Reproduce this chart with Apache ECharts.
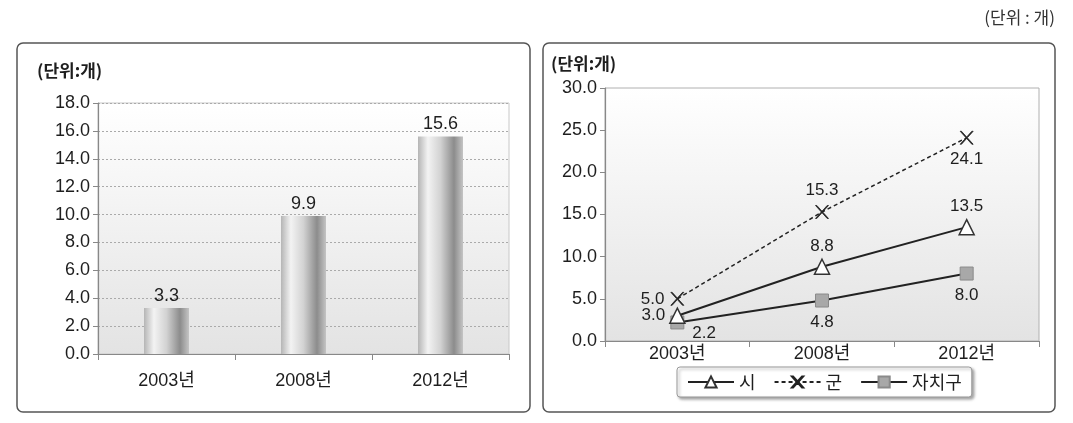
<!DOCTYPE html>
<html><head><meta charset="utf-8">
<script src="https://cdn.jsdelivr.net/npm/echarts@6/dist/echarts.min.js"></script>
<style>html,body{margin:0;padding:0;background:#fff}#c{width:1073px;height:423px}</style>
</head><body><div id="c"></div>
<script>
const categories = ['2003년', '2008년', '2012년'];
const barValues = [3.3, 9.9, 15.6];
const seriesNames = ['시', '군', '자치구'];
const siValues = [3.0, 8.8, 13.5];
const gunValues = [5.0, 15.3, 24.1];
const gaValues = [2.2, 4.8, 8.0];
const leftTicks = { min: 0, max: 18, interval: 2 };
const rightTicks = { min: 0, max: 30, interval: 5 };
const unitText = '(단위 : 개)';
const axisUnit = '(단위:개)';

const siLabelPos = ['left', 'top', 'top'];
const gunLabelPos = ['left', 'top', 'bottom'];
const gaLabelPos = ['right', 'bottom', 'bottom'];

const FONT = "'Liberation Sans', Arial, 'Noto Sans CJK KR', sans-serif";
const TXT = '#1e1e1e';

const plotBg = new echarts.graphic.LinearGradient(0, 0, 0, 1, [
  { offset: 0, color: '#ffffff' }, { offset: 1, color: '#e3e3e3' }
]);
const barGrad = new echarts.graphic.LinearGradient(0, 0, 1, 0, [
  { offset: 0, color: '#b5b5b5' }, { offset: 0.22, color: '#f3f3f3' },
  { offset: 0.5, color: '#d2d2d2' }, { offset: 0.8, color: '#8c8c8c' },
  { offset: 1, color: '#c4c4c4' }
]);

function mkData(vals, pos) {
  return vals.map((v, i) => {
    const lab = { position: pos[i] };
    if (pos[i] === 'right') { lab.offset = [2, 11]; }
    return { value: v, label: lab };
  });
}

const chart = echarts.init(document.getElementById('c'), null, { renderer: 'canvas' });
chart.setOption({
  animation: false,
  textStyle: { fontFamily: FONT, color: TXT },
  graphic: [
    { type: 'rect', shape: { x: 17, y: 43, width: 513, height: 369, r: 6 }, style: { fill: 'none', stroke: '#555', lineWidth: 1.5 }, z: -1 },
    { type: 'rect', shape: { x: 543, y: 43, width: 512, height: 369, r: 6 }, style: { fill: 'none', stroke: '#555', lineWidth: 1.5 }, z: -1 },
    { type: 'text', right: 18, top: 9, style: { text: unitText, font: "17px 'Noto Sans CJK KR'", fill: '#333' } },
    { type: 'text', left: 37, top: 62, style: { text: axisUnit, font: "bold 17px 'Noto Sans CJK KR'", fill: TXT } },
    { type: 'text', left: 551, top: 55, style: { text: axisUnit, font: "bold 17px 'Noto Sans CJK KR'", fill: TXT } }
  ],
  legend: {
    left: 677, top: 367, width: 288,
    data: seriesNames,
    itemWidth: 46, itemHeight: 14, itemGap: 18,
    padding: [6, 10, 6, 10],
    borderColor: '#999', borderWidth: 1, borderRadius: 3,
    backgroundColor: '#fff',
    shadowColor: 'rgba(0,0,0,0.35)', shadowBlur: 3, shadowOffsetX: 2, shadowOffsetY: 2,
    textStyle: { fontSize: 18, color: TXT, fontFamily: "'Noto Sans CJK KR', sans-serif" }
  },
  grid: [
    { left: 98, right: 564, top: 103, bottom: 69, show: true, backgroundColor: plotBg, borderColor: '#c8c8c8', borderWidth: 1 },
    { left: 605, right: 34, top: 88, bottom: 82, show: true, backgroundColor: plotBg, borderColor: '#b0b0b0', borderWidth: 1 }
  ],
  xAxis: [
    { type: 'category', gridIndex: 0, data: categories, boundaryGap: true,
      axisLine: { lineStyle: { color: '#888', width: 1.2 } },
      axisTick: { show: true, length: 6, lineStyle: { color: '#888' } },
      axisLabel: { fontSize: 18, color: TXT, margin: 18 } },
    { type: 'category', gridIndex: 1, data: categories, boundaryGap: true,
      axisLine: { lineStyle: { color: '#888', width: 1.2 } },
      axisTick: { show: true, length: 6, lineStyle: { color: '#888' } },
      axisLabel: { fontSize: 18, color: TXT, margin: 4 } }
  ],
  yAxis: [
    { type: 'value', gridIndex: 0, min: leftTicks.min, max: leftTicks.max, interval: leftTicks.interval,
      axisLine: { show: true, lineStyle: { color: '#888', width: 1.2 } },
      axisTick: { show: true, length: 5, lineStyle: { color: '#888' } },
      axisLabel: { fontSize: 18, color: TXT, margin: 8, formatter: v => v.toFixed(1) },
      splitLine: { show: true, lineStyle: { color: '#aaa', type: [2, 2] } } },
    { type: 'value', gridIndex: 1, min: rightTicks.min, max: rightTicks.max, interval: rightTicks.interval,
      axisLine: { show: true, lineStyle: { color: '#888', width: 1.2 } },
      axisTick: { show: true, length: 5, lineStyle: { color: '#888' } },
      axisLabel: { fontSize: 18, color: TXT, margin: 8, formatter: v => v.toFixed(1) },
      splitLine: { show: false } }
  ],
  series: [
    { type: 'bar', xAxisIndex: 0, yAxisIndex: 0, data: barValues, barWidth: 45,
      itemStyle: { color: barGrad },
      label: { show: true, position: 'top', distance: 3, fontSize: 18, color: TXT, formatter: p => p.value.toFixed(1) } },
    { name: seriesNames[0], type: 'line', xAxisIndex: 1, yAxisIndex: 1, data: mkData(siValues, siLabelPos),
      lineStyle: { color: '#222', width: 2 }, symbol: 'triangle', symbolSize: 15,
      itemStyle: { color: '#fff', borderColor: '#333', borderWidth: 1.5 },
      label: { show: true, fontSize: 17, color: TXT, distance: 4, formatter: p => p.value.toFixed(1) }, z: 4 },
    { name: seriesNames[1], type: 'line', xAxisIndex: 1, yAxisIndex: 1, data: mkData(gunValues, gunLabelPos),
      lineStyle: { color: '#222', width: 1.5, type: [4, 3] },
      symbol: 'path://M0,0 L2,0 L10,8 L18,0 L20,0 L11,9 L20,18 L18,18 L10,10 L2,18 L0,18 L9,9 Z', symbolSize: 13,
      itemStyle: { color: '#222', borderColor: '#222', borderWidth: 0.8 },
      label: { show: true, fontSize: 17, color: TXT, distance: 6, formatter: p => p.value.toFixed(1) }, z: 3 },
    { name: seriesNames[2], type: 'line', xAxisIndex: 1, yAxisIndex: 1, data: mkData(gaValues, gaLabelPos),
      lineStyle: { color: '#222', width: 2 }, symbol: 'rect', symbolSize: 13,
      itemStyle: { color: '#a8a8a8', borderColor: '#8a8a8a', borderWidth: 1 },
      label: { show: true, fontSize: 17, color: TXT, distance: 6, formatter: p => p.value.toFixed(1) }, z: 2 }
  ]
});
</script>
</body></html>
